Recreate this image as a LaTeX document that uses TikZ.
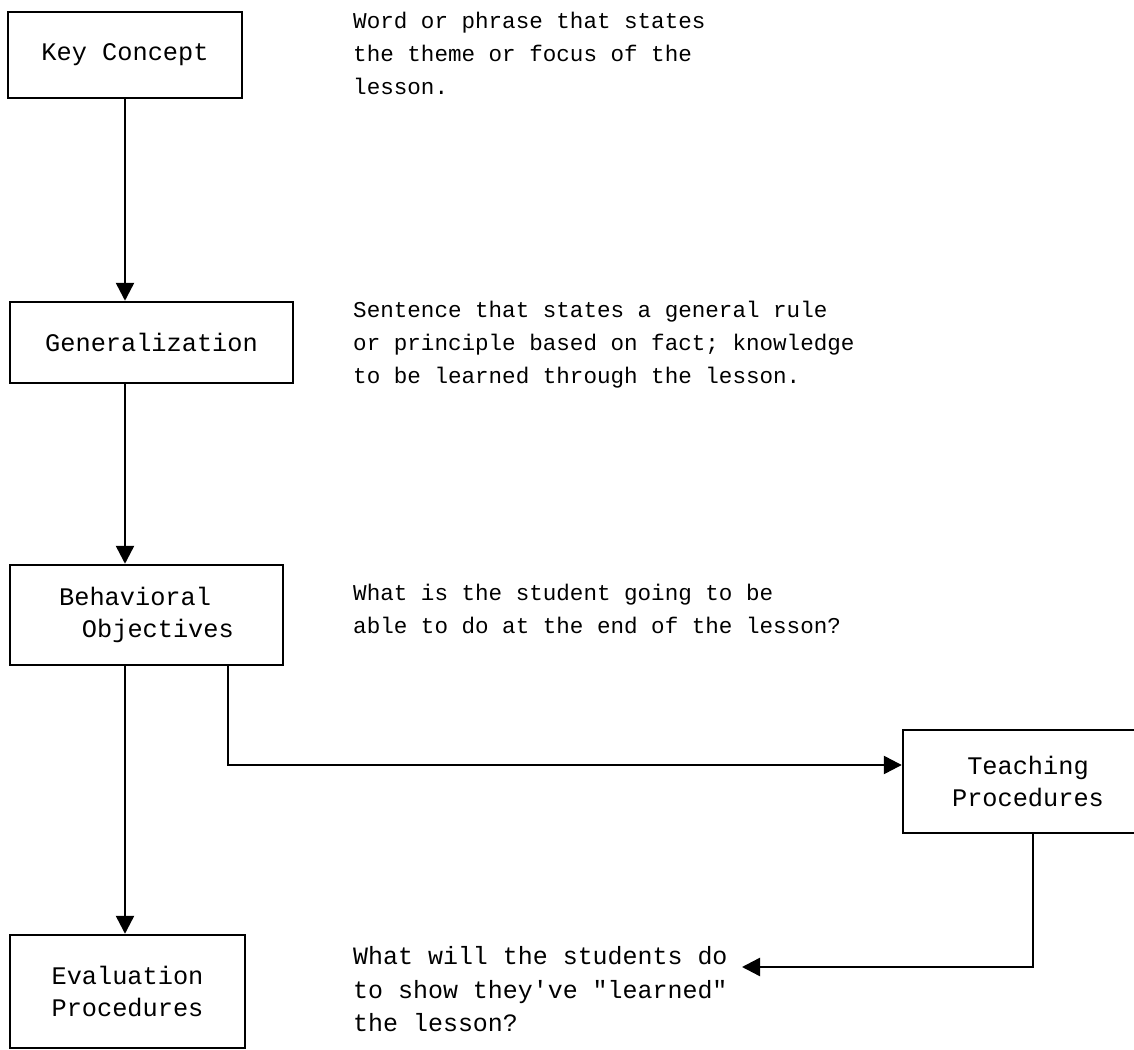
\documentclass[tikz,border=0pt]{standalone}
\usepackage{fontspec}
\setmainfont{Liberation Mono}[Ligatures=TeXOff]
\usetikzlibrary{arrows.meta}

\begin{document}
\begin{tikzpicture}[x=0.02cm,y=-0.02cm,line width=1.4pt,>={Triangle[length=3.6mm,width=3.6mm]},
  box/.style={draw,align=center,inner sep=0pt,font=\fontsize{14.4}{18}\selectfont},
  note/.style={anchor=north west,align=left,inner sep=0pt,font=\fontsize{12.85}{18.8}\selectfont}]
  \useasboundingbox (0,0) rectangle (1134,1050);
  % cajas de la izquierda
  \node[box,minimum width=4.68cm,minimum height=1.72cm] (kc) at (125,55) {Key Concept};
  \node[box,minimum width=5.66cm,minimum height=1.62cm] (gen) at (151.5,342.5) {Generalization};
  \node[box,minimum width=5.46cm,minimum height=2.0cm,align=left] (beh) at (146.5,615)
    {Behavioral\\\hspace*{0.9em}Objectives};
  \node[box,minimum width=4.7cm,minimum height=2.26cm] (ev) at (127.5,991.5) {Evaluation\\Procedures};
  % caja de la derecha
  \node[box,minimum width=5.0cm,minimum height=2.06cm] (teach) at (1028,781.5) {Teaching\\Procedures};
  % textos
  \node[note] (kcnote) at (352,11) {Word or phrase that states\\the theme or focus of the\\lesson.};
  \node[note] (gennote) at (352,300) {Sentence that states a general rule\\or principle based on fact; knowledge\\to be learned through the lesson.};
  \node[note] (behnote) at (352,583) {What is the student going to be\\able to do at the end of the lesson?};
  \node[note,font=\fontsize{14.2}{19.2}\selectfont] (evnote) at (352,945)
    {What will the students do\\to show they've "learned"\\the lesson?};
  % flechas
  \draw[->] (kc.south) -- (kc.south |- gen.north);
  \draw[->] (kc.south |- gen.south) -- (kc.south |- beh.north);
  \draw[->] (kc.south |- beh.south) -- (kc.south |- ev.north);
  \coordinate (br) at (228,665);
  \draw[->] (br) |- ([yshift=0.33cm]teach.west);
  \coordinate (evtip) at (742,967);
  \draw[->] ([xshift=0.1cm]teach.south) |- (evtip);
\end{tikzpicture}
\end{document}
